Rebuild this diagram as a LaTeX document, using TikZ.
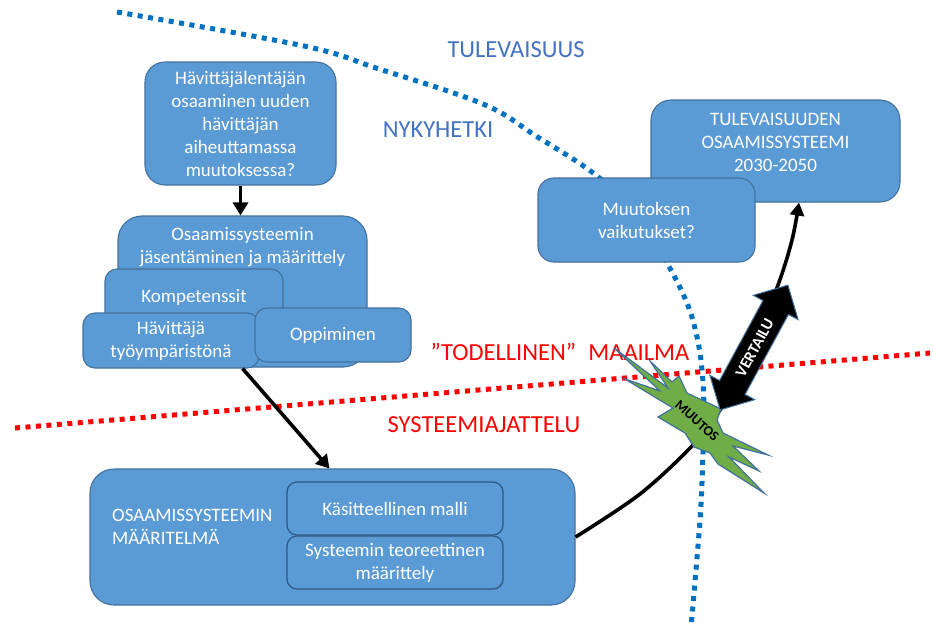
\documentclass[tikz,border=0pt]{standalone}
\usepackage{fontspec}
\setmainfont{Carlito}
\usetikzlibrary{arrows.meta,shapes.arrows,calc}
\definecolor{boxfill}{HTML}{5B9BD5}
\definecolor{boxline}{HTML}{41719C}
\definecolor{innerline}{HTML}{2E5A86}
\definecolor{dotblue}{HTML}{0070C0}
\definecolor{headblue}{HTML}{4472C4}
\definecolor{starfill}{HTML}{70AD47}
\definecolor{worldred}{HTML}{FF0000}

\begin{document}
\begin{tikzpicture}[x=1pt,y=-1pt,
  box/.style={draw=boxline, fill=boxfill, line width=1.1pt, rounded corners=#1, inner sep=0pt,
              text=white, align=center, font=\fontsize{19}{23}\selectfont},
  box/.default=14pt,
  innerbox/.style={box=10pt, draw=innerline, line width=1.3pt},
  boxtext/.style={text=white, align=center, inner sep=0pt, font=\fontsize{19}{23}\selectfont},
  zonetext/.style={inner sep=0pt, font=\fontsize{24.5}{28}\selectfont},
  dotline/.style={line width=5pt, dash pattern=on 5pt off 5.5pt},
  conn/.style={line width=3.6pt, -{Triangle[length=13pt,width=15pt]}},
]
% canvas
\fill[white] (0,0) rectangle (933,627);
\useasboundingbox (0,0) rectangle (933,627);

% boundary between the real world and systems thinking
\draw[dotline, worldred] (15,428) -- (930,353);

% boundary between present and future
\draw[dotline, dotblue] plot[smooth, tension=0.6] coordinates {
  (117,12) (304,46) (376,68) (483,104) (536,136) (597,176) (640,220)
  (667,263) (687,303) (697,337) (702,370) (704,410) (703,453) (700,520) (691,627)};

% upper left: present competence system
\node[box=20pt, minimum width=191pt, minimum height=123pt] (A) at (240.5,123.5)
  {Hävittäjälentäjän\\osaaminen uuden\\hävittäjän\\aiheuttamassa\\muutoksessa?};
\node[box=24pt, minimum width=249pt, minimum height=151pt] (B) at (242.5,291.5) {};
\node[boxtext] (Btxt) at (242.5,247) {Osaamissysteemin\\jäsentäminen ja määrittely};
\node[box=12pt, minimum width=178pt, minimum height=56pt] (K) at (194,297) {Kompetenssit};
\node[box=12pt, minimum width=176pt, minimum height=55pt] (H) at (171,340.5) {Hävittäjä\\työympäristönä};
\node[box=12pt, minimum width=156pt, minimum height=54pt] (O) at (333,335) {Oppiminen};

% future competence system and effects of change
\node[box=20pt, minimum width=249pt, minimum height=102pt] (C) at (775.5,151) {};
\node[boxtext] (Ctxt) at (775.5,142) {TULEVAISUUDEN\\OSAAMISSYSTEEMI\\2030-2050};
\node[box=16pt, minimum width=217pt, minimum height=84pt] (D) at (646.5,220) {Muutoksen\\vaikutukset?};

% definition of the competence system
\node[box=24pt, minimum width=485pt, minimum height=136pt] (E) at (332.5,537) {};
\node[boxtext, anchor=west, align=left] (Etxt) at (112,527) {OSAAMISSYSTEEMIN\\MÄÄRITELMÄ};
\node[innerbox, minimum width=216pt, minimum height=53pt] (E1) at (395,508.5) {Käsitteellinen malli};
\node[innerbox, minimum width=216pt, minimum height=53pt] (E2) at (395,562.5) {Systeemin teoreettinen\\määrittely};

% connectors
\draw[conn] (A.south) -- (A.south |- B.north);
\draw[conn] ($(H.south east)+(-17,0)$) -- ($(E.north west)+(240,0)$);
\draw[conn, -{Triangle[length=13pt,width=14pt]}] plot[smooth, tension=0.55] coordinates {
  (E.east) (640,494) (693,445) (720,410) (752,348) (778,285) (792,240) ($(C.south)+(23.5,0)$)};

% zone labels
\node[zonetext, text=headblue] (fut) at (516,50) {TULEVAISUUS};
\node[zonetext, text=headblue] (now) at (438,130) {NYKYHETKI};
\node[zonetext, text=worldred] (real) at (560,352) {”TODELLINEN”\hspace{0.5em}MAAILMA};
\node[zonetext, text=worldred] (sys) at (484,425) {SYSTEEMIAJATTELU};

% the change burst
\draw[draw=boxline, fill=starfill, line width=1.2pt, line join=miter]
  (614,348) -- (668,388) -- (650,361) -- (672,382) -- (679,376) -- (687,393)
  -- (721,409) -- (717,420) -- (723,433) -- (768,455) -- (733,446) -- (759,471)
  -- (729,457) -- (764,493) -- (718,464) -- (710,453) -- (694,447) -- (685,433)
  -- (658,417) -- (673,408) -- (653,396) -- (625,379) -- (660,391) -- cycle;
\node[rotate=-41.6, inner sep=0pt, font=\bfseries\fontsize{14}{14}\selectfont] (M) at (697,421) {MUUTOS};

% comparison arrow
\node[double arrow, fill=black, draw=boxline, line width=1pt, rotate=61.5,
      minimum height=142pt, minimum width=50pt, double arrow head extend=11pt,
      double arrow tip angle=90, inner xsep=4pt, inner ysep=8pt,
      text height=12pt, text depth=0pt,
      text=white, font=\bfseries\fontsize{16}{16}\selectfont] (V) at (754,347.5) {VERTAILU};
\end{tikzpicture}
\end{document}
